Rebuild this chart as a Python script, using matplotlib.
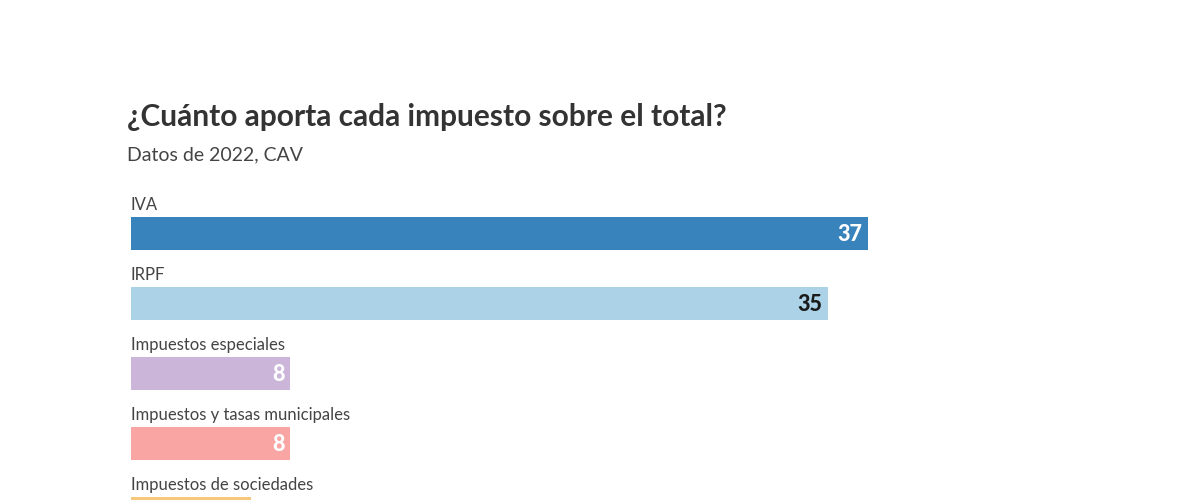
import matplotlib
matplotlib.use("Agg")
import matplotlib.pyplot as plt

categories = ["IVA", "IRPF", "Impuestos especiales", "Impuestos y tasas municipales", "Impuestos de sociedades"]
values = [37, 35, 8, 8, 6]
colors = ["#3883bc", "#acd2e8", "#cbb6da", "#f8a5a3", "#f7c87c"]
label_colors = ["white", "#1a1a1a", "white", "white", "#1a1a1a"]

plt.rcParams['font.family'] = ['Lato', 'DejaVu Sans']

W, H = 1200, 500
fig = plt.figure(figsize=(12, 5), dpi=100)
fig.patch.set_facecolor("white")

# axes geometry in pixels
x0 = 131
px_per_unit = (868 - 131) / 37.0
xmax = 50
y_top = 198.5
y_bot = 548.5
ax = fig.add_axes([x0 / W, (H - y_bot) / H, xmax * px_per_unit / W, (y_bot - y_top) / H])
ax.set_xlim(0, xmax)
ax.set_ylim(len(categories) - 0.5, -0.5)
ax.axis("off")

bh = 33 / 70.0
ys = list(range(len(categories)))
ax.barh(ys, values, height=bh, color=colors, left=0)

for y, cat, v, lc in zip(ys, categories, values, label_colors):
    ax.text(0, y - bh / 2 - 0.06, cat, ha="left", va="bottom", fontsize=12, color="#444444")
    # only label values whose bar centre lies inside the visible figure
    _, py = ax.transData.transform((v, y))
    if py > 10:
        ax.text(v - 0.3, y + 0.02, f"{v}", ha="right", va="center", fontsize=15.5,
                fontweight="black", color=lc)

fig.text(127 / W, 1 - 126 / H, "¿Cuánto aporta cada impuesto sobre el total?", ha="left",
         va="baseline", fontsize=21.5, fontweight="bold", color="#333333")
fig.text(127 / W, 1 - 160 / H, "Datos de 2022, CAV", ha="left", va="baseline",
         fontsize=14, color="#444444")

fig.savefig("out.png", dpi=100, facecolor="white")
